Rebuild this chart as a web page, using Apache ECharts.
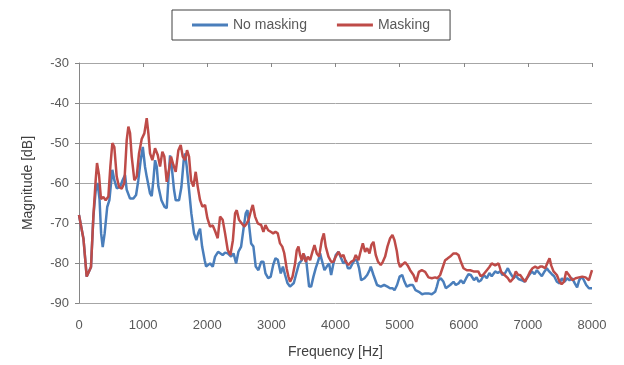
<!DOCTYPE html>
<html>
<head>
<meta charset="utf-8">
<script src="https://cdn.jsdelivr.net/npm/echarts@6/dist/echarts.min.js"></script>
<style>
  html, body { margin: 0; padding: 0; background: #fff; }
  #chart { width: 624px; height: 365px; }
</style>
</head>
<body>
<div id="chart"></div>
<script>
// No masking (blue): frequency [Hz] and magnitude [dB]
const noMaskFreq = [0, 16, 70, 120, 150, 187, 224, 260, 290, 320, 345, 370, 400, 440, 474, 500, 520, 551, 588, 640, 683, 718, 744, 796, 848, 890, 925, 962, 995, 1030, 1056, 1108, 1134, 1160, 1186, 1212, 1238, 1285, 1331, 1368, 1394, 1420, 1446, 1482, 1508, 1560, 1597, 1633, 1654, 1680, 1716, 1752, 1794, 1830, 1860, 1888, 1920, 1960, 1982, 2044, 2086, 2122, 2169, 2200, 2240, 2278, 2320, 2372, 2410, 2450, 2486, 2528, 2570, 2600, 2627, 2655, 2684, 2720, 2756, 2798, 2840, 2876, 2908, 2950, 2990, 3028, 3064, 3100, 3146, 3180, 3214, 3250, 3290, 3318, 3350, 3396, 3432, 3474, 3510, 3546, 3588, 3620, 3656, 3692, 3734, 3760, 3786, 3828, 3864, 3900, 3932, 3968, 4004, 4046, 4088, 4124, 4160, 4192, 4228, 4254, 4296, 4332, 4368, 4400, 4452, 4494, 4530, 4550, 4592, 4648, 4706, 4758, 4810, 4850, 4888, 4920, 4960, 5000, 5040, 5076, 5112, 5164, 5206, 5248, 5300, 5350, 5400, 5450, 5502, 5554, 5580, 5606, 5642, 5684, 5720, 5746, 5788, 5840, 5876, 5918, 5955, 5996, 6038, 6074, 6110, 6160, 6200, 6232, 6270, 6314, 6360, 6400, 6436, 6490, 6530, 6568, 6604, 6646, 6688, 6724, 6776, 6812, 6854, 6906, 6948, 6984, 7020, 7062, 7104, 7140, 7176, 7218, 7260, 7296, 7332, 7374, 7410, 7452, 7494, 7530, 7572, 7612, 7650, 7692, 7732, 7768, 7800, 7838, 7874, 7910, 7952, 8000]
const noMaskDb = [-68, -68.4, -74, -83.4, -83.5, -81, -68.4, -62, -60, -64, -72.6, -76, -72.6, -66, -64.3, -60, -56.7, -59.3, -61.3, -61, -59.2, -58, -61.7, -63.9, -63.9, -63, -59.3, -54.3, -51, -56, -58.4, -62.6, -63.3, -59.3, -54.3, -55.9, -60.9, -64.3, -65.9, -66.3, -59.3, -53.1, -55.9, -61.7, -64.3, -64.3, -61, -54.3, -52.6, -55.9, -61.7, -67.6, -72.6, -74.3, -72.5, -71.4, -75.9, -79.3, -80.9, -80.1, -80.9, -78.4, -77.2, -77.6, -78, -77.4, -77.6, -78.4, -77.6, -80.1, -77.2, -75.9, -70.9, -67.6, -66.8, -70.9, -75.1, -75.9, -80.9, -81.8, -79.7, -79.7, -82.6, -83.8, -83.4, -80.5, -78.8, -79.2, -82.6, -80.9, -83, -85, -85.9, -85.9, -85, -82.2, -80.1, -79.3, -78, -79.7, -85.9, -85.9, -83.4, -81.3, -79.3, -77.6, -79.3, -81.8, -80.9, -80.1, -83, -80.1, -78, -77.2, -78.8, -80.1, -79.3, -81.3, -81.3, -80.5, -79.3, -79.3, -81.3, -84.3, -83.8, -83, -81.8, -80.9, -83, -85.5, -85.9, -85.5, -85.9, -86.3, -86.3, -86.8, -85.5, -83.4, -83, -84.7, -85.9, -85.5, -85.5, -86.8, -87.2, -87.8, -87.6, -87.6, -87.8, -87.2, -85.9, -84.3, -83.8, -84.7, -86.3, -86.3, -85.5, -84.7, -85.5, -85.1, -84.3, -85.1, -83.8, -82.8, -83, -84.3, -83.6, -84.7, -84.3, -83, -83.8, -82.5, -83.3, -82.1, -82.5, -82.1, -83, -82.5, -81.3, -82.5, -83.8, -83.2, -84, -84.3, -84.7, -83.8, -83, -82.1, -82.8, -81.8, -82.5, -83.3, -82.1, -81.3, -82.1, -82.8, -83.3, -84.7, -85.1, -83.8, -84.7, -83.8, -84.3, -83.8, -85.1, -86.1, -84.3, -83.4, -84.3, -85.5, -86.3, -86.3]

// Masking (red)
const maskFreq = [0, 16, 70, 120, 150, 187, 224, 260, 281, 312, 343, 380, 416, 458, 489, 520, 551, 588, 624, 666, 707, 744, 770, 796, 822, 863, 900, 936, 978, 1019, 1056, 1082, 1108, 1144, 1186, 1228, 1264, 1300, 1331, 1368, 1404, 1435, 1472, 1508, 1550, 1586, 1618, 1654, 1685, 1716, 1747, 1784, 1820, 1851, 1888, 1924, 1966, 2002, 2044, 2086, 2122, 2163, 2200, 2240, 2278, 2320, 2361, 2400, 2434, 2460, 2495, 2538, 2580, 2616, 2645, 2684, 2710, 2746, 2788, 2840, 2876, 2908, 2950, 2990, 3028, 3064, 3100, 3135, 3170, 3200, 3240, 3266, 3292, 3330, 3370, 3396, 3422, 3448, 3474, 3500, 3536, 3568, 3604, 3640, 3672, 3708, 3744, 3786, 3818, 3848, 3890, 3932, 3968, 4004, 4046, 4088, 4124, 4160, 4202, 4244, 4285, 4316, 4358, 4390, 4426, 4462, 4494, 4530, 4560, 4592, 4628, 4664, 4706, 4738, 4774, 4810, 4852, 4888, 4920, 4956, 4980, 5008, 5050, 5086, 5125, 5164, 5216, 5258, 5300, 5346, 5398, 5450, 5502, 5554, 5590, 5632, 5674, 5710, 5746, 5788, 5840, 5880, 5918, 5955, 5996, 6048, 6100, 6152, 6190, 6226, 6264, 6306, 6360, 6400, 6436, 6490, 6542, 6584, 6636, 6688, 6724, 6776, 6812, 6848, 6880, 6916, 6958, 7000, 7036, 7072, 7114, 7156, 7192, 7228, 7270, 7312, 7338, 7364, 7400, 7452, 7494, 7526, 7562, 7598, 7640, 7692, 7744, 7796, 7848, 7900, 7952, 8000]
const maskDb = [-68, -68.4, -74, -83.4, -83.8, -81, -68.4, -59.3, -55, -58, -64, -63.5, -64.3, -63.4, -55.9, -50, -51, -58.4, -61, -61.4, -60, -49.3, -45.9, -47.5, -53.4, -59.3, -58.4, -52.6, -49, -47.6, -43.8, -47.6, -52.6, -54.3, -51.3, -53, -55.9, -52.2, -53.4, -59.7, -56.7, -53.4, -55.5, -57.2, -51.8, -50.5, -53.4, -54.3, -51.8, -53.4, -59.3, -60.9, -57.2, -60.9, -64.3, -65.9, -65.5, -68.8, -70.9, -70.6, -72, -73.8, -68.4, -69.2, -72.6, -76.8, -78, -74.3, -67.6, -66.8, -69.2, -70.1, -70.9, -70.1, -69.2, -66.8, -65.5, -68.4, -70.1, -70.5, -72.2, -70.5, -71.8, -72.2, -72.6, -72.2, -72.6, -75.1, -75.9, -77.5, -81.5, -83.4, -84.7, -83.4, -80.1, -76.8, -75.9, -78, -79.3, -77.6, -79.7, -78.4, -79.3, -77.2, -75.5, -77.6, -78.4, -74.3, -72.6, -75.9, -78.4, -79.7, -79.7, -78.4, -77.2, -78.4, -78, -79.7, -80.5, -79.7, -79.3, -78, -79.3, -77.2, -75.1, -77.2, -76.3, -77.6, -75.5, -74.7, -78, -79.7, -80.5, -79.7, -78.4, -75.9, -73.8, -73, -74.3, -77, -79.7, -81, -80.3, -79.8, -80.6, -81.8, -83, -84.7, -82.2, -81.8, -82.2, -83.6, -83.8, -83.6, -83.8, -83, -81, -79.3, -78.9, -78.4, -77.6, -77.6, -78, -79.7, -81.3, -81.8, -81.8, -82.1, -82.1, -82.1, -83.3, -82.9, -81.8, -81, -80.1, -80.6, -80.1, -82.2, -83, -83.8, -84.7, -83.8, -82.1, -83, -83, -83.8, -84.7, -83.3, -82.1, -81.3, -80.9, -81.3, -80.9, -80.9, -81.3, -79.7, -78.8, -80.6, -82.1, -83, -84.7, -85.3, -84.7, -82.1, -83, -84.3, -83.8, -83.6, -83.4, -83.6, -84.3, -81.8]

const xTicks = { min: 0, max: 8000, interval: 1000 }
const yTicks = { min: -90, max: -30, interval: 10 }

const pair = (xs, ys) => xs.map((x, i) => [x, ys[i]])

const chart = echarts.init(document.getElementById('chart'))
const fontFamily = '"Liberation Sans", "DejaVu Sans", sans-serif'

chart.setOption({
  animation: false,
  textStyle: { fontFamily },
  legend: {
    top: 10,
    left: 172,
    padding: [8, 20, 8, 20],
    borderColor: '#404040',
    borderWidth: 1,
    itemGap: 30,
    itemWidth: 36,
    itemHeight: 3,
    icon: 'rect',
    textStyle: { color: '#595959', fontSize: 14, fontFamily },
    data: ['No masking', 'Masking'],
  },
  grid: { left: 79, right: 32, top: 63, bottom: 62 },
  xAxis: [
    {
      type: 'value',
      position: 'bottom',
      ...xTicks,
      name: 'Frequency [Hz]',
      nameLocation: 'middle',
      nameGap: 42,
      nameTextStyle: { color: '#404040', fontSize: 14 },
      axisLine: { show: false },
      axisTick: { show: false },
      splitLine: { show: false },
      axisLabel: { color: '#595959', fontSize: 13, margin: 16, formatter: (v) => String(v) },
    },
    {
      type: 'value',
      position: 'top',
      ...xTicks,
      axisLine: { show: true, lineStyle: { color: '#a6a6a6' } },
      axisTick: { show: true, inside: true, length: 4, lineStyle: { color: '#868686' } },
      axisLabel: { show: false },
      splitLine: { show: false },
    },
  ],
  yAxis: {
    type: 'value',
    ...yTicks,
    name: 'Magnitude [dB]',
    nameLocation: 'middle',
    nameGap: 44,
    nameTextStyle: { color: '#404040', fontSize: 14 },
    axisLine: { show: true, lineStyle: { color: '#868686' } },
    axisTick: { show: true, length: 4, lineStyle: { color: '#868686' } },
    axisLabel: { color: '#595959', fontSize: 13, margin: 10 },
    splitLine: { lineStyle: { color: '#a6a6a6', width: 1 } },
  },
  series: [
    {
      name: 'No masking',
      type: 'line',
      data: pair(noMaskFreq, noMaskDb),
      showSymbol: false,
      symbol: 'none',
      itemStyle: { color: '#4a7ebb' },
      lineStyle: { color: '#4a7ebb', width: 2.5 },
    },
    {
      name: 'Masking',
      type: 'line',
      data: pair(maskFreq, maskDb),
      showSymbol: false,
      symbol: 'none',
      itemStyle: { color: '#be4b48' },
      lineStyle: { color: '#be4b48', width: 2.5 },
    },
  ],
})
</script>
</body>
</html>
